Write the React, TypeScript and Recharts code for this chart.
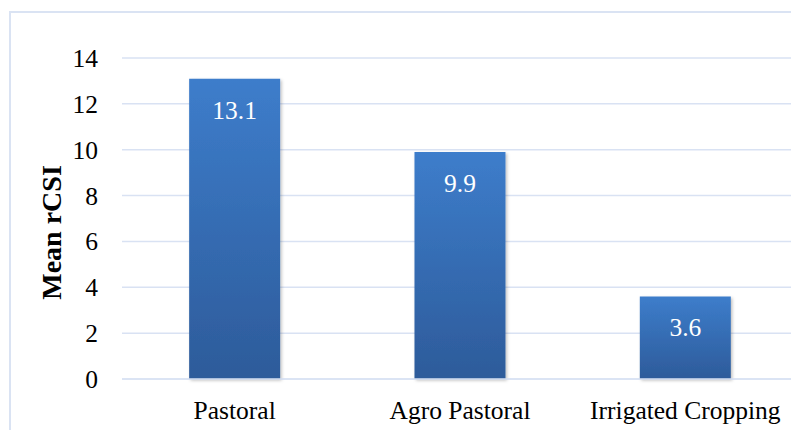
import { BarChart, Bar, XAxis, YAxis, CartesianGrid, LabelList } from "recharts";

const categories = ["Pastoral", "Agro Pastoral", "Irrigated Cropping"];
const meanRcsi = [13.1, 9.9, 3.6];
const yTicks = [0, 2, 4, 6, 8, 10, 12, 14];

const data = categories.map((name, i) => ({ name, value: meanRcsi[i] }));

const serif = "Liberation Serif";

function AxisTitle({ viewBox }: any) {
    const x = viewBox.x + 61;
    const y = viewBox.y + viewBox.height / 2 + 14;
    return (
        <text
            x={x}
            y={y}
            transform={`rotate(-90, ${x}, ${y})`}
            textAnchor="middle"
            fontFamily={serif}
            fontWeight="bold"
            fontSize={28}
            fill="#000"
        >
            Mean rCSI
        </text>
    );
}

function XTick({ x, y, payload }: any) {
    return (
        <text x={x} y={y + 18} textAnchor="middle" fontFamily={serif} fontSize={25.5} fill="#000">
            {payload.value}
        </text>
    );
}

function YTick({ x, y, payload }: any) {
    return (
        <text x={x} y={y + 9} textAnchor="end" fontFamily={serif} fontSize={25.5} fill="#000">
            {payload.value}
        </text>
    );
}

function BarValue({ x, y, width, value }: any) {
    return (
        <text x={x + width / 2} y={y + 40} textAnchor="middle" fontFamily={serif} fontSize={25.5} fill="#fff">
            {value}
        </text>
    );
}

export default function App() {
    return (
        <div style={{ position: "absolute", left: 0, top: 0, width: 791, height: 430, overflow: "hidden", background: "#fff" }}>
            <div style={{ position: "absolute", left: 9, top: 11, width: 900, height: 500, border: "2px solid #DAE3F3" }} />
            <div style={{ position: "absolute", left: 0, top: 0 }}>
                <BarChart
                    width={800}
                    height={430}
                    data={data}
                    margin={{ top: 58, right: 2, bottom: 0, left: 0 }}
                    barCategoryGap="29.8%"
                >
                    <defs>
                        <linearGradient id="barFill" x1="0" y1="0" x2="0" y2="1">
                            <stop offset="0%" stopColor="#3D7DCB" />
                            <stop offset="100%" stopColor="#2D5B9A" />
                        </linearGradient>
                        <filter id="barShadow" x="-10%" y="-10%" width="130%" height="130%">
                            <feDropShadow dx="1.5" dy="1.5" stdDeviation="1.5" floodColor="#000" floodOpacity="0.25" />
                        </filter>
                    </defs>
                    <CartesianGrid vertical={false} stroke="#D9E2F3" strokeWidth={1.5} />
                    <XAxis
                        dataKey="name"
                        height={51}
                        axisLine={{ stroke: "#D9E2F3", strokeWidth: 1.5 }}
                        tickLine={false}
                        tickSize={0}
                        tickMargin={22}
                        tick={<XTick />}
                        interval={0}
                    />
                    <YAxis
                        width={122}
                        domain={[0, 14]}
                        ticks={yTicks}
                        axisLine={false}
                        tickLine={false}
                        tickSize={0}
                        tickMargin={24}
                        tick={<YTick />}
                        label={<AxisTitle />}
                    />
                    <Bar dataKey="value" fill="url(#barFill)" filter="url(#barShadow)" isAnimationActive={false}>
                        <LabelList dataKey="value" content={<BarValue />} />
                    </Bar>
                </BarChart>
            </div>
        </div>
    );
}
